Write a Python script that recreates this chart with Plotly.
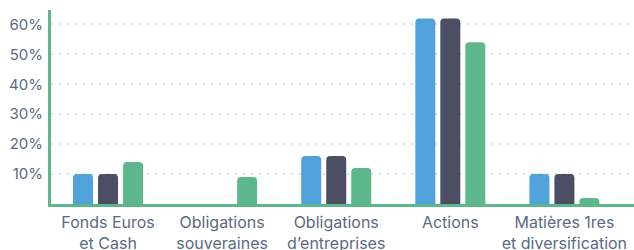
import plotly.graph_objects as go

categories = ["Fonds Euros<br>et Cash", "Obligations<br>souveraines",
              "Obligations<br>d’entreprises", "Actions",
              "Matières 1res<br>et diversification"]
serie_1 = [10, 0, 16, 62, 10]
serie_2 = [10, 0, 16, 62, 10]
serie_3 = [14, 9, 12, 54, 2]
y_ticks = [10, 20, 30, 40, 50, 60]
y_tick_labels = [f"{v}%" for v in y_ticks]

colors = ["#4fa2da", "#4c4e64", "#5cb88a"]
px_per_cat = 114.1
bar_w = 20 / px_per_cat
offsets = [-35 / px_per_cat, -10 / px_per_cat, 15 / px_per_cat]

fig = go.Figure()
for name, vals, col, off in zip(["Série 1", "Série 2", "Série 3"],
                                [serie_1, serie_2, serie_3], colors, offsets):
    fig.add_trace(go.Bar(x=categories, y=vals, name=name, marker_color=col,
                         width=bar_w, offset=off, marker_line_width=0))

txt = "#5b6a83"
fig.update_layout(
    width=634, height=250,
    margin=dict(l=51, r=0, t=10, b=46),
    paper_bgcolor="white", plot_bgcolor="white",
    barmode="overlay", barcornerradius=4,
    showlegend=False,
    font=dict(family="Inter", size=15, color=txt),
)
fig.update_xaxes(range=[-0.5, 4.61], showline=True, linecolor="#5cb88a",
                 linewidth=3, showgrid=False, ticks="", automargin=False,
                 ticklabelstandoff=2, tickfont=dict(size=16, color=txt))
fig.update_yaxes(range=[0, 64.8], tickvals=y_ticks, ticktext=y_tick_labels,
                 showline=True, linecolor="#5cb88a", linewidth=3,
                 showgrid=True, gridcolor="#cddbea", gridwidth=2, griddash="2px,6px",
                 zeroline=False, ticks="", ticklabelstandoff=2, automargin=False,
                 tickfont=dict(size=15, color=txt))
fig.write_html("out.html", config={"displayModeBar": False},
               post_script="document.body.style.margin='0';document.body.style.overflow='hidden';")
